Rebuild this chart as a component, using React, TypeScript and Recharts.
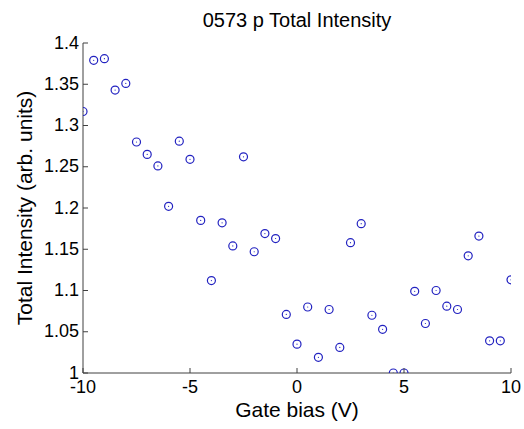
import React from "react";
import { ScatterChart, Scatter, XAxis, YAxis, Label } from "recharts";

// gate bias sweep (V) and measured total intensity
const gateBias = [
  -10, -9.5, -9, -8.5, -8, -7.5, -7, -6.5, -6, -5.5, -5, -4.5, -4, -3.5, -3,
  -2.5, -2, -1.5, -1, -0.5, 0, 0.5, 1, 1.5, 2, 2.5, 3, 3.5, 4, 4.5, 5, 5.5, 6,
  6.5, 7, 7.5, 8, 8.5, 9, 9.5, 10,
];
const totalIntensity = [
  1.317, 1.379, 1.381, 1.343, 1.351, 1.28, 1.265, 1.251, 1.202, 1.281, 1.259,
  1.185, 1.112, 1.182, 1.154, 1.262, 1.147, 1.169, 1.163, 1.071, 1.035, 1.08,
  1.019, 1.077, 1.031, 1.158, 1.181, 1.07, 1.053, 1.0, 1.0, 1.099, 1.06, 1.1,
  1.081, 1.077, 1.142, 1.166, 1.039, 1.039, 1.113,
];
const xTicks = [-10, -5, 0, 5, 10];
const yTicks = [1, 1.05, 1.1, 1.15, 1.2, 1.25, 1.3, 1.35, 1.4];

const points = gateBias.map((v, i) => ({ bias: v, intensity: totalIntensity[i] }));

const FONT = "'Liberation Sans', Arial, Helvetica, sans-serif";
const AXIS = "#404040";
const MARK = "#2222c0";
const TICK_LEN = 5;

const BottomTick = ({ x, y, payload }: any) => (
  <g>
    <line x1={x} y1={y} x2={x} y2={y - TICK_LEN} stroke={AXIS} />
    <text x={x} y={y + 20} textAnchor="middle" fontSize={18} fontFamily={FONT} fill="#000">
      {payload.value}
    </text>
  </g>
);
const TopTick = ({ x, y }: any) => (
  <line x1={x} y1={y} x2={x} y2={y + TICK_LEN} stroke={AXIS} />
);
const LeftTick = ({ x, y, payload }: any) => (
  <g>
    <line x1={x} y1={y} x2={x + TICK_LEN} y2={y} stroke={AXIS} />
    <text x={x - 4} y={y + 5.5} textAnchor="end" fontSize={18} fontFamily={FONT} fill="#000">
      {payload.value}
    </text>
  </g>
);
const RightTick = ({ x, y }: any) => (
  <line x1={x} y1={y} x2={x - TICK_LEN} y2={y} stroke={AXIS} />
);

const Circle = ({ cx, cy }: any) => (
  <g>
    <circle cx={cx} cy={cy} r={4} fill="none" stroke={MARK} strokeWidth={1.2} />
    <circle cx={cx} cy={cy} r={0.6} fill={MARK} />
  </g>
);

const XLabel = ({ viewBox }: any) => (
  <text
    x={viewBox.x + viewBox.width / 2}
    y={viewBox.y + 44}
    textAnchor="middle"
    fontSize={21}
    fontFamily={FONT}
    fill="#000"
  >
    Gate bias (V)
  </text>
);
const YLabel = ({ viewBox }: any) => {
  const cx = 32;
  const cy = viewBox.y + viewBox.height / 2;
  return (
    <text
      x={cx}
      y={cy}
      transform={`rotate(-90, ${cx}, ${cy})`}
      textAnchor="middle"
      fontSize={21}
      fontFamily={FONT}
      fill="#000"
    >
      Total Intensity (arb. units)
    </text>
  );
};

export default function App() {
  return (
    <div style={{ position: "absolute", left: 0, top: 0, width: 524, height: 429, background: "#fff" }}>
      <div
        style={{
          position: "absolute",
          left: 83,
          width: 428,
          top: 10,
          textAlign: "center",
          fontFamily: FONT,
          fontSize: 20,
          lineHeight: "20px",
          color: "#000",
        }}
      >
        0573 p Total Intensity
      </div>
      <ScatterChart width={524} height={429} margin={{ top: 43, right: 13, bottom: 0, left: 0 }}>
        <XAxis
          dataKey="bias"
          type="number"
          domain={[-10, 10]}
          ticks={xTicks}
          interval={0}
          allowDataOverflow
          height={56}
          tickSize={0}
          tickMargin={0}
          tickLine={false}
          axisLine={{ stroke: AXIS }}
          tick={<BottomTick />}
        >
          <Label content={<XLabel />} />
        </XAxis>
        <XAxis
          xAxisId="top"
          orientation="top"
          type="number"
          domain={[-10, 10]}
          ticks={xTicks}
          interval={0}
          allowDataOverflow
          height={0}
          tickSize={0}
          tickMargin={0}
          tickLine={false}
          axisLine={{ stroke: AXIS }}
          tick={<TopTick />}
        />
        <YAxis
          dataKey="intensity"
          type="number"
          domain={[1, 1.4]}
          ticks={yTicks}
          interval={0}
          allowDataOverflow
          width={83}
          tickSize={0}
          tickMargin={0}
          tickLine={false}
          axisLine={{ stroke: AXIS }}
          tick={<LeftTick />}
        >
          <Label content={<YLabel />} />
        </YAxis>
        <YAxis
          yAxisId="right"
          orientation="right"
          type="number"
          domain={[1, 1.4]}
          ticks={yTicks}
          interval={0}
          allowDataOverflow
          width={0}
          tickSize={0}
          tickMargin={0}
          tickLine={false}
          axisLine={{ stroke: AXIS }}
          tick={<RightTick />}
        />
        <Scatter data={points} shape={<Circle />} isAnimationActive={false} />
      </ScatterChart>
    </div>
  );
}
